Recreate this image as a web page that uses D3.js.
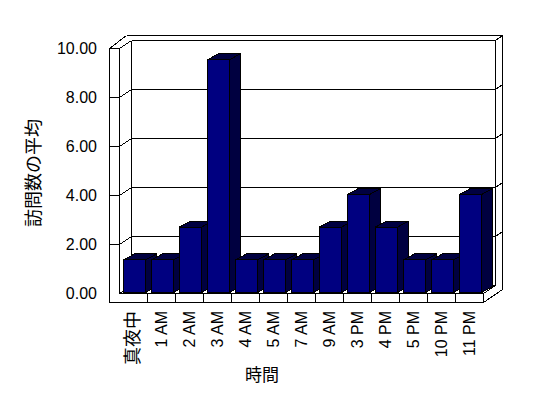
<!DOCTYPE html>
<html lang="ja">
<head>
<meta charset="UTF-8">
<title>訪問数の平均</title>
<script src="https://d3js.org/d3.v7.min.js"></script>
<style>
    body { margin: 0; background: #fff; }
    svg { display: block; }
    .lat { font-family: "Liberation Sans", Arial, sans-serif; font-size: 16px; fill: #000; }
    .cjk { font-family: "Noto Sans CJK JP", sans-serif; font-size: 18px; fill: #000; }
</style>
</head>
<body>
<svg id="chart" width="548" height="398"></svg>
<script>
    // data
    const hours = ["真夜中", "1 AM", "2 AM", "3 AM", "4 AM", "5 AM", "7 AM", "9 AM", "3 PM", "4 PM", "5 PM", "10 PM", "11 PM"];
    const visits = [1.33, 1.33, 2.67, 9.5, 1.33, 1.33, 1.33, 2.67, 4, 2.67, 1.33, 1.33, 4];
    const yTicks = [0, 2, 4, 6, 8, 10];

    const svg = d3.select("#chart");
    svg.append("rect").attr("width", 548).attr("height", 398).attr("fill", "#fff");

    // dithered navy/black for the shaded faces
    const pat = svg.append("defs").append("pattern")
        .attr("id", "dither").attr("patternUnits", "userSpaceOnUse")
        .attr("width", 2).attr("height", 2);
    pat.append("rect").attr("width", 2).attr("height", 2).attr("fill", "#000080");
    pat.append("rect").attr("width", 1).attr("height", 1).attr("fill", "#000");
    pat.append("rect").attr("x", 1).attr("y", 1).attr("width", 1).attr("height", 1).attr("fill", "#000");

    const x = d3.scaleBand().domain(hours).range([119, 483]);
    const y = d3.scaleLinear().domain([0, 10]).range([293, 48]);

    const dx = 12, dy = -8;        // depth of the plot box
    const wallL = 109;             // outer edge of left wall
    const outerTop = 35, outerR = 502;

    const g = svg.append("g").attr("transform", "translate(0.5,0.5)")
        .attr("shape-rendering", "crispEdges");

    function line(x1, y1, x2, y2) {
        g.append("line").attr("x1", x1).attr("y1", y1).attr("x2", x2).attr("y2", y2)
            .attr("stroke", "#000").attr("stroke-width", 1);
    }

    const x0 = x.range()[0], x1 = x.range()[1];
    const yTop = y(10), yBot = y(0);

    // walls
    line(wallL, yTop, wallL, yBot + 9);
    line(x0, yTop, x0, yBot);
    line(wallL, yTop, 126, outerTop);
    line(126, outerTop, outerR, outerTop);
    line(outerR, outerTop, outerR, yBot + dy + 4);
    line(x0 + dx, yTop + dy, x0 + dx, yBot + dy);
    line(x1 + dx, yTop + dy, x1 + dx, yBot + dy);
    line(x1 + dx, yTop + dy, outerR, outerTop);

    // gridlines
    yTicks.forEach(v => {
        const yy = y(v);
        if (v > 0) line(wallL, yy, x0, yy);
        line(x0, yy, x0 + dx, yy + dy);
        line(x0 + dx, yy + dy, x1 + dx, yy + dy);
        if (v > 0 && v < 10) line(x1 + dx, yy + dy, outerR, yy + dy - 5);
    });

    // floor
    line(wallL, yBot + 9, x1, yBot + 9);
    line(x0, yBot, x1, yBot);
    line(x1, yBot, x1, yBot + 9);
    line(x1, yBot, x1 + dx, yBot + dy);
    line(x1, yBot + 9, outerR, yBot + dy + 4);
    hours.slice(1).forEach(h => line(x(h), yBot, x(h), yBot + 9));

    // bars
    const bdx = 11, bdy = -6, bw = 22;
    hours.forEach((h, i) => {
        const fx = x(h) + 4, top = y(visits[i]) - 1, bot = yBot - 1;
        const pts = p => p.map(d => d.join(",")).join(" ");
        g.append("polygon")
            .attr("points", pts([[fx + bw, top], [fx + bw + bdx, top + bdy], [fx + bw + bdx, bot + bdy], [fx + bw, bot]]))
            .attr("fill", "url(#dither)").attr("stroke", "#000");
        g.append("polygon")
            .attr("points", pts([[fx, top], [fx + bdx, top + bdy], [fx + bw + bdx, top + bdy], [fx + bw, top]]))
            .attr("fill", "url(#dither)").attr("stroke", "#000");
        g.append("rect").attr("x", fx).attr("y", top).attr("width", bw).attr("height", bot - top)
            .attr("fill", "#000080").attr("stroke", "#000");
    });

    // y tick labels
    svg.selectAll(".ylab").data(yTicks).join("text")
        .attr("class", "lat")
        .attr("x", 97).attr("y", d => y(d)).attr("dy", "0.36em")
        .attr("text-anchor", "end")
        .text(d => d.toFixed(2));

    // x tick labels, rotated
    svg.selectAll(".xlab").data(hours).join("text")
        .attr("class", d => /[A-Z0-9]/.test(d) ? "lat" : "cjk")
        .attr("transform", d => `translate(${x(d) + x.bandwidth() / 2},311) rotate(-90)`)
        .attr("text-anchor", "end").attr("dy", "0.36em")
        .text(d => d);

    // axis titles
    svg.append("text").attr("class", "cjk").style("font-size", "17px")
        .attr("x", 262).attr("y", 375).attr("dy", "0.36em").attr("text-anchor", "middle")
        .text("時間");
    svg.append("text").attr("class", "cjk")
        .attr("transform", "translate(34,173) rotate(-90)")
        .attr("text-anchor", "middle").attr("dy", "0.36em")
        .text("訪問数の平均");
</script>
</body>
</html>
